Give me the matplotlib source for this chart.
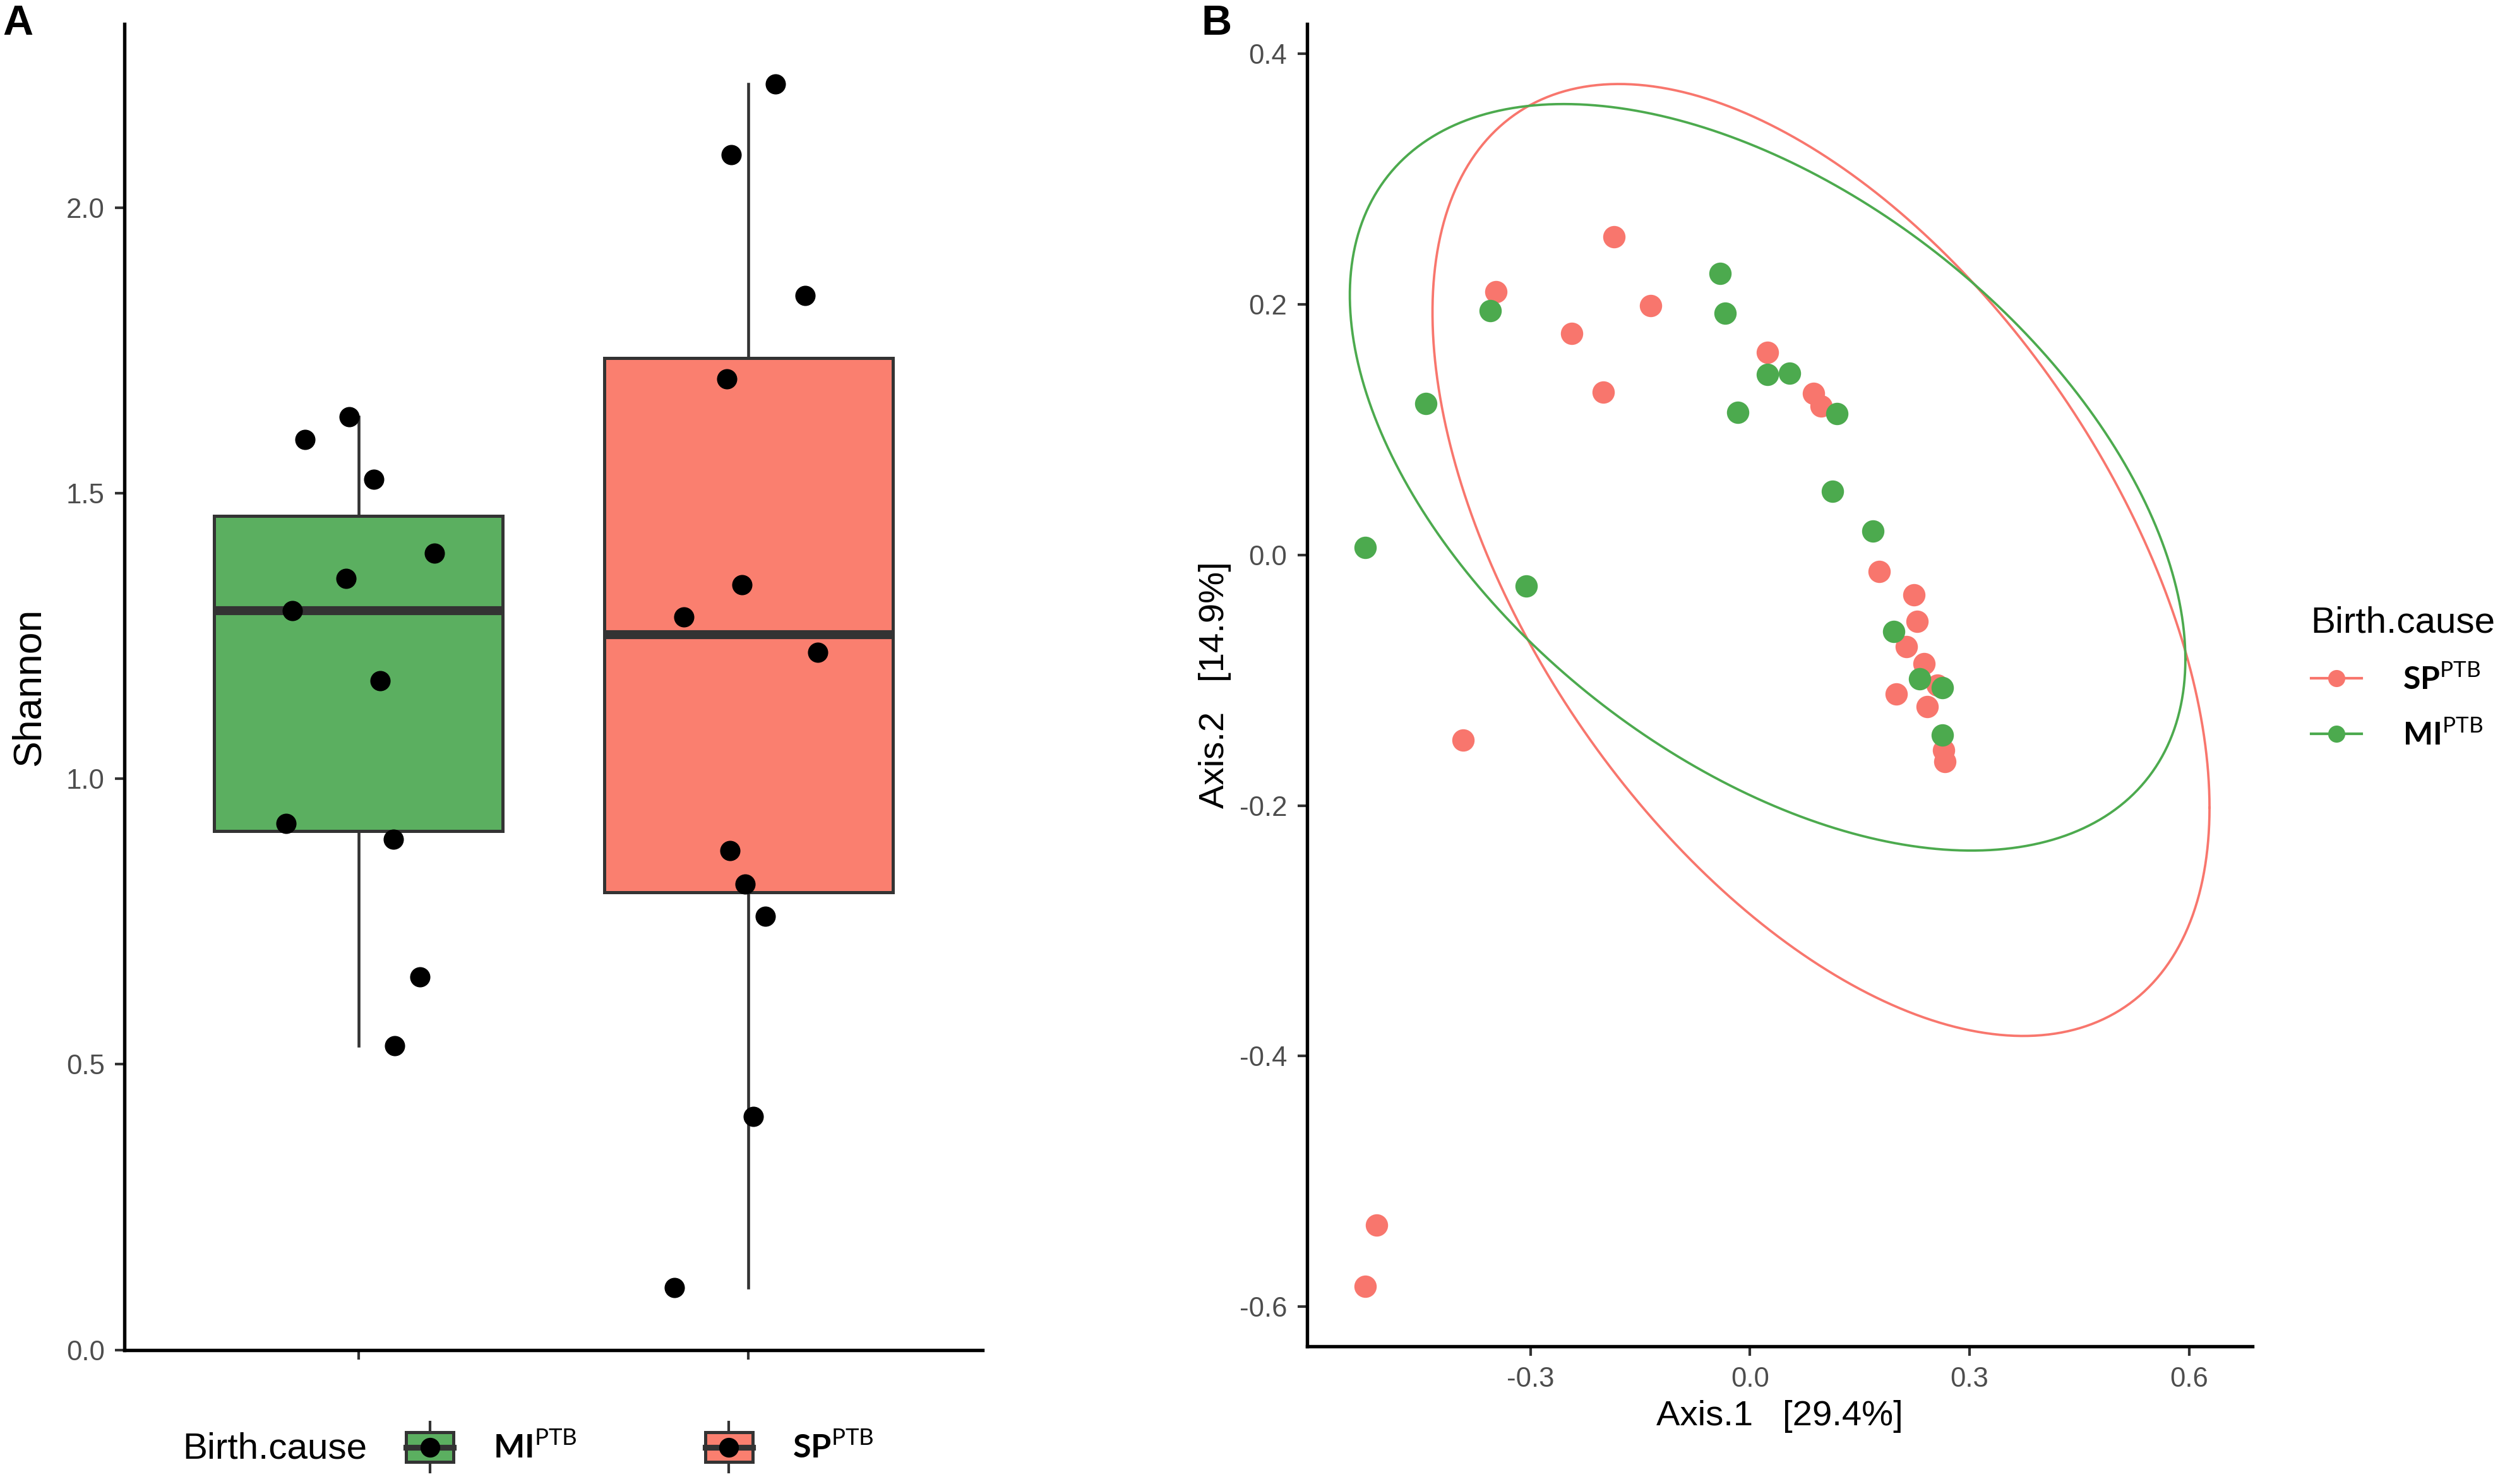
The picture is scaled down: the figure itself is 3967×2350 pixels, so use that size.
import numpy as np
import matplotlib
matplotlib.use("Agg")
import matplotlib.pyplot as plt
from matplotlib.lines import Line2D
from matplotlib.patches import Rectangle
from matplotlib.legend_handler import HandlerBase
from matplotlib.ticker import FormatStrFormatter
from matplotlib import font_manager

plt.rcParams['font.family'] = ['Liberation Sans', 'DejaVu Sans']
plt.rcParams['mathtext.fontset'] = 'custom'
plt.rcParams['mathtext.rm'] = 'Lato'
plt.rcParams['mathtext.bf'] = 'Lato:bold'

# ---- panel A data: Shannon diversity per birth cause ----
groups = ['MI', 'SP']
shannon_mi = [1.594, 1.633, 1.524, 1.350, 1.395, 1.294, 1.171, 0.922, 0.894, 0.653, 0.532]
jitter_mi = [-0.137, -0.024, 0.040, -0.032, 0.194, -0.169, 0.056, -0.185, 0.089, 0.157, 0.093]
shannon_sp = [2.216, 2.092, 1.846, 1.700, 1.339, 1.283, 1.221, 0.874, 0.815, 0.759, 0.409, 0.109]
jitter_sp = [0.069, -0.044, 0.145, -0.056, -0.016, -0.165, 0.177, -0.048, -0.008, 0.044, 0.012, -0.190]

# ---- panel B data: PCoA ordination ----
sp_axis1 = [-0.526, -0.510, -0.392, -0.347, -0.186, -0.244, -0.201, -0.136, 0.024, 0.087, 0.097,
            0.177, 0.224, 0.228, 0.214, 0.238, 0.256, 0.242, 0.200, 0.265, 0.266]
sp_axis2 = [-0.584, -0.535, -0.148, 0.210, 0.254, 0.177, 0.130, 0.199, 0.162, 0.129, 0.119,
            -0.013, -0.032, -0.053, -0.073, -0.087, -0.104, -0.121, -0.111, -0.156, -0.165]
mi_axis1 = [-0.526, -0.443, -0.355, -0.306, -0.041, -0.034, -0.017, 0.024, 0.054, 0.119,
            0.113, 0.168, 0.196, 0.232, 0.263, 0.263]
mi_axis2 = [0.006, 0.121, 0.195, -0.025, 0.225, 0.193, 0.114, 0.144, 0.145, 0.113,
            0.051, 0.019, -0.061, -0.099, -0.106, -0.144]

# 95% ellipses: centre and shape matrix
ell_sp_center = [0.097, -0.004]
ell_sp_shape = [[0.531 ** 2, -0.105], [-0.105, 0.380 ** 2]]
ell_mi_center = [0.024, 0.062]
ell_mi_shape = [[0.571 ** 2, -0.083], [-0.083, 0.298 ** 2]]

green_fill = '#5BAF60'
red_fill = '#FA7F6F'
green_pt = '#4CAA4E'
red_pt = '#F8766D'
tick_col = '#4D4D4D'


def narrow_font():
    names = {f.name for f in font_manager.fontManager.ttflist}
    return 'Liberation Sans Narrow' if 'Liberation Sans Narrow' in names else 'Liberation Sans'


def style_axes(ax):
    for side in ['top', 'right']:
        ax.spines[side].set_visible(False)
    for side in ['left', 'bottom']:
        ax.spines[side].set_linewidth(1.3)
        ax.spines[side].set_color('black')
    ax.tick_params(length=3.5, width=1.0, color='#333333', labelcolor=tick_col,
                   labelsize=10.5, pad=4)


def ellipse_path(center, shape):
    t = np.linspace(0, 2 * np.pi, 300)
    L = np.linalg.cholesky(np.array(shape))
    pts = (L @ np.vstack([np.cos(t), np.sin(t)])).T + np.array(center)
    return pts[:, 0], pts[:, 1]


class BoxKeyHandler(HandlerBase):
    def __init__(self, fill):
        super().__init__()
        self.fill = fill

    def create_artists(self, legend, orig_handle, xdescent, ydescent, width, height, fontsize, trans):
        x0, y0 = -xdescent, -ydescent
        cx, cy = x0 + width / 2, y0 + height / 2
        whisk = Line2D([cx, cx], [y0 - 0.35 * height, y0 + 1.35 * height], color='#333333', lw=1.0, transform=trans)
        box = Rectangle((x0, y0), width, height, facecolor=self.fill, edgecolor='#333333', lw=1.2, transform=trans)
        med = Line2D([x0, x0 + width], [cy, cy], color='#333333', lw=2.2, transform=trans)
        dot = Line2D([cx], [cy], marker='o', ms=6.5, color='black', transform=trans)
        return [whisk, box, med, dot]


fig = plt.figure(figsize=(3967 / 300, 2350 / 300), dpi=300)

# ---------------- Panel A ----------------
ax_a = fig.add_axes([0.0497, 0.0904, 0.3425, 0.8935])
values = [shannon_mi, shannon_sp]
fills = [green_fill, red_fill]
bp = ax_a.boxplot(values, positions=[1, 2], widths=0.74, patch_artist=True,
                  showcaps=False, showfliers=False, whis=1.5,
                  boxprops=dict(edgecolor='#333333', linewidth=1.2),
                  whiskerprops=dict(color='#333333', linewidth=1.1),
                  medianprops=dict(color='#333333', linewidth=3.4, solid_capstyle='butt'))
for patch, fc in zip(bp['boxes'], fills):
    patch.set_facecolor(fc)

for i, (vals, jit) in enumerate([(shannon_mi, jitter_mi), (shannon_sp, jitter_sp)]):
    xs = [i + 1 + j for j in jit]
    ax_a.plot(xs, vals, 'o', color='black', ms=6.7, zorder=5)

all_vals = shannon_mi + shannon_sp
pad = 0.05 * (max(all_vals) - min(all_vals))
ax_a.set_ylim(min(all_vals) - pad, max(all_vals) + pad)
ax_a.set_xlim(0.4, 2.6)
ax_a.set_xticks([1, 2])
ax_a.set_xticklabels(['', ''])
ax_a.set_yticks([0.0, 0.5, 1.0, 1.5, 2.0])
ax_a.yaxis.set_major_formatter(FormatStrFormatter('%.1f'))
style_axes(ax_a)
ax_a.set_ylabel('Shannon', fontsize=15, family=narrow_font(), labelpad=7)

# legend below panel A
fig.text(0.073, 0.0237, 'Birth.cause', fontsize=14, va='center', ha='left')
key_mi = Rectangle((0, 0), 1, 1)
key_sp = Rectangle((0, 0), 1, 1)
fig.legend([key_mi, key_sp],
           [r'$\mathbf{MI}^{\mathrm{PTB}}$', r'$\mathbf{SP}^{\mathrm{PTB}}$'],
           handler_map={key_mi: BoxKeyHandler(green_fill), key_sp: BoxKeyHandler(red_fill)},
           loc='center left', bbox_to_anchor=(0.1555, 0.0237), ncol=2, frameon=False,
           fontsize=12.5, handlelength=1.45, handleheight=1.0, handletextpad=1.2,
           columnspacing=3.9, borderpad=0)

# ---------------- Panel B ----------------
ax_b = fig.add_axes([0.5217, 0.0926, 0.3775, 0.8913])
ex, ey = ellipse_path(ell_sp_center, ell_sp_shape)
ax_b.plot(ex, ey, color=red_pt, lw=0.9)
ex, ey = ellipse_path(ell_mi_center, ell_mi_shape)
ax_b.plot(ex, ey, color=green_pt, lw=0.9)
ax_b.plot(sp_axis1, sp_axis2, 'o', color=red_pt, ms=7.5, zorder=4)
ax_b.plot(mi_axis1, mi_axis2, 'o', color=green_pt, ms=7.5, zorder=4)
ax_b.margins(0.05)
ax_b.set_xticks([-0.3, 0.0, 0.3, 0.6])
ax_b.set_yticks([-0.6, -0.4, -0.2, 0.0, 0.2, 0.4])
ax_b.xaxis.set_major_formatter(FormatStrFormatter('%.1f'))
ax_b.yaxis.set_major_formatter(FormatStrFormatter('%.1f'))
style_axes(ax_b)
ax_b.set_xlabel('Axis.1   [29.4%]', fontsize=13.5, labelpad=3)
ax_b.set_ylabel('Axis.2   [14.9%]', fontsize=13.5, labelpad=3)

handles = [Line2D([0], [0], color=red_pt, lw=1.0, marker='o', ms=5.5),
           Line2D([0], [0], color=green_pt, lw=1.0, marker='o', ms=5.5)]
ax_b.legend(handles, [r'$\mathbf{SP}^{\mathrm{PTB}}$', r'$\mathbf{MI}^{\mathrm{PTB}}$'],
            title='Birth.cause', title_fontsize=14, fontsize=12, loc='center left',
            bbox_to_anchor=(1.045, 0.505), frameon=False, alignment='left',
            handlelength=1.6, handletextpad=1.3, labelspacing=0.8, borderpad=0)

fig.text(0.001, 0.997, 'A', fontsize=16, fontweight='bold', va='top', ha='left')
fig.text(0.4796, 0.997, 'B', fontsize=16, fontweight='bold', va='top', ha='left')

fig.savefig('out.png', dpi=300)
